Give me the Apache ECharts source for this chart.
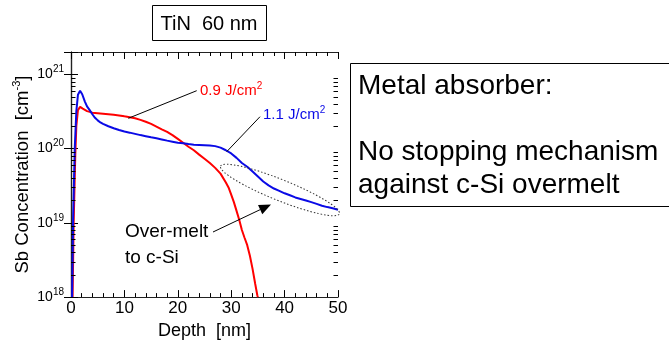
<!DOCTYPE html>
<html>
<head>
<meta charset="utf-8">
<script src="https://cdn.jsdelivr.net/npm/echarts@6/dist/echarts.min.js"></script>
<style>
html,body{margin:0;padding:0;background:#fff;}
#chart{width:669px;height:345px;}
</style>
</head>
<body>
<div id="chart"></div>
<script>
// ---- data (depth in nm, Sb concentration in cm^-3) ----
const redDepth = [0.3,0.5,0.8,1.0,1.3,1.7,2.2,3,4,5,6,7,8,9,10,11,12,13,14,15,16,17,18,19,20,21,22,23,24,25,26,27,28,29,29.5,30,30.5,31,31.5,32,32.5,33,33.5,34,34.5,34.9,35];
const redConc  = [1e18,1e19,8e19,2e20,3.3e20,3.65e20,3.45e20,3.2e20,3.05e20,3.0e20,2.95e20,2.9e20,2.85e20,2.8e20,2.72e20,2.65e20,2.56e20,2.44e20,2.3e20,2.15e20,1.98e20,1.82e20,1.68e20,1.52e20,1.35e20,1.2e20,1.06e20,9.5e19,8.3e19,7.3e19,6.4e19,5.5e19,4.6e19,3.5e19,3.0e19,2.4e19,1.9e19,1.45e19,1.1e19,8e18,6.3e18,5e18,3.6e18,2.4e18,1.5e18,1.05e18,1e18];

const blueDepth = [0.2,0.4,0.7,1.0,1.3,1.7,2.1,2.6,3,3.5,4,4.5,5,5.5,6,7,8,9,10,11,12,13,14,15,16,17,18,19,20,21,22,23,24,25,26,27,28,29,30,31,32,33,34,35,36,37,38,39,40,41,42,43,44,45,46,47,48,49,50];
const blueConc  = [1e18,1.2e19,1e20,3.2e20,5.3e20,6e20,5.4e20,4.3e20,3.7e20,3.3e20,2.9e20,2.6e20,2.4e20,2.25e20,2.15e20,2.0e20,1.88e20,1.78e20,1.7e20,1.64e20,1.58e20,1.52e20,1.47e20,1.42e20,1.38e20,1.33e20,1.28e20,1.24e20,1.2e20,1.18e20,1.15e20,1.13e20,1.12e20,1.11e20,1.1e20,1.08e20,1.03e20,9.5e19,8.6e19,7.5e19,6.4e19,5.7e19,4.9e19,4.2e19,3.6e19,3.2e19,2.9e19,2.7e19,2.5e19,2.35e19,2.2e19,2.1e19,2.0e19,1.9e19,1.8e19,1.7e19,1.63e19,1.57e19,1.5e19];

const xTicks = [0,10,20,30,40,50];
const yDecades = [18,19,20,21];
const yMin = 1e18, yMax = 2e21;

// ---- build ----
const FONT = 'Liberation Sans, Arial, Helvetica, sans-serif';
const pairs = (xs, ys) => xs.map((x,i)=>[x, ys[i]]);

const minorY = [];
yDecades.forEach(e => { for (let k=2;k<=9;k++){ const v=k*Math.pow(10,e); if (v<yMax) minorY.push([xTicks[0], v]); } });

const chart = echarts.init(document.getElementById('chart'), null, {renderer:'canvas'});

const axisLineStyle = {show:true, lineStyle:{color:'#222', width:1.2}};
const tickStyle = {color:'#000', width:1};
const yLabelFmt = v => {
  const e = Math.round(Math.log10(v));
  if (Math.abs(v - Math.pow(10,e)) / v > 1e-6) return '';
  return '{b|10}{s|' + e + '}';
};

const option = {
  animation:false,
  backgroundColor:'#fff',
  grid:{left:71, right:331, top:52, bottom:43, containLabel:false},
  xAxis:[
    {type:'value', min:xTicks[0], max:xTicks[xTicks.length-1], interval:10, position:'bottom',
     axisLine:axisLineStyle, splitLine:{show:false},
     axisTick:{show:true, inside:true, length:7, lineStyle:tickStyle},
     minorTick:{show:true, splitNumber:5, length:4, lineStyle:tickStyle},
     axisLabel:{color:'#000', fontSize:17, fontFamily:FONT, margin:3},
     name:'Depth  [nm]', nameLocation:'middle', nameGap:17,
     nameTextStyle:{color:'#000', fontSize:18, fontFamily:FONT}},
    {type:'value', min:xTicks[0], max:xTicks[xTicks.length-1], interval:10, position:'top',
     axisLine:axisLineStyle, splitLine:{show:false},
     axisTick:{show:true, inside:true, length:7, lineStyle:tickStyle},
     minorTick:{show:true, splitNumber:5, length:4, lineStyle:tickStyle},
     axisLabel:{show:false}}
  ],
  yAxis:[
    {type:'log', logBase:10, min:yMin, max:yMax, position:'left',
     axisLine:axisLineStyle, splitLine:{show:false},
     axisTick:{show:true, inside:true, length:7, lineStyle:tickStyle},
     axisLabel:{formatter:yLabelFmt, margin:7, color:'#000',
       rich:{b:{fontSize:14, fontFamily:FONT, color:'#000'}, s:{fontSize:10, fontFamily:FONT, color:'#000', verticalAlign:'top', padding:[0,0,10,0]}}},
     name:'{n|Sb Concentration  [cm}{s|-3}{n|]}', nameLocation:'middle', nameGap:37, nameRotate:90,
     nameTextStyle:{rich:{n:{fontSize:18.5, fontFamily:FONT, color:'#000'}, s:{fontSize:11, fontFamily:FONT, color:'#000', padding:[0,0,12,0]}}}},
    {type:'log', logBase:10, min:yMin, max:yMax, position:'right',
     axisLine:axisLineStyle, splitLine:{show:false},
     axisTick:{show:true, inside:true, length:7, lineStyle:tickStyle},
     axisLabel:{show:false}}
  ],
  series:[
    {type:'custom', xAxisIndex:0, yAxisIndex:0, data:minorY, silent:true, z:5,
     renderItem:(params, api)=>{
       const v = api.value(1);
       const pL = api.coord([xTicks[0], v]);
       const pR = api.coord([xTicks[xTicks.length-1], v]);
       const y = Math.round(pL[1]) + 0.5;
       return {type:'group', children:[
         {type:'line', shape:{x1:pL[0], y1:y, x2:pL[0]+4.5, y2:y}, style:{stroke:'#000', lineWidth:1}},
         {type:'line', shape:{x1:pR[0]-4.5, y1:y, x2:pR[0], y2:y}, style:{stroke:'#000', lineWidth:1}}
       ]};
     }},
    {type:'line', name:'0.9 J/cm2', xAxisIndex:0, yAxisIndex:0, data:pairs(redDepth, redConc),
     showSymbol:false, symbol:'none', lineStyle:{color:'#ff0000', width:2}, z:3},
    {type:'line', name:'1.1 J/cm2', xAxisIndex:0, yAxisIndex:0, data:pairs(blueDepth, blueConc),
     showSymbol:false, symbol:'none', lineStyle:{color:'#0a0ae6', width:2}, z:4}
  ]
};
chart.setOption(option);

// ---- annotations ----
const tip = [271, 204.5], tail = [213, 232];
const dx = tip[0]-tail[0], dy = tip[1]-tail[1], L = Math.hypot(dx,dy);
const ux = dx/L, uy = dy/L, px = -uy, py = ux;
const bc = [tip[0]-12*ux, tip[1]-12*uy];

chart.setOption({graphic:[
  {type:'rect', shape:{x:152.5, y:5.5, width:114, height:35}, style:{fill:'#fff', stroke:'#000', lineWidth:1}},
  {type:'text', x:209, y:24, style:{text:'TiN  60 nm', font:'20px '+FONT, fill:'#000', align:'center', verticalAlign:'middle'}},

  {type:'rect', shape:{x:350.5, y:63.5, width:340, height:143}, style:{fill:'#fff', stroke:'#000', lineWidth:1}},
  {type:'text', x:358, y:86, style:{text:'Metal absorber:', font:'28px '+FONT, fill:'#000', align:'left', verticalAlign:'middle'}},
  {type:'text', x:358, y:152, style:{text:'No stopping mechanism', font:'28px '+FONT, fill:'#000', align:'left', verticalAlign:'middle'}},
  {type:'text', x:358, y:185, style:{text:'against c-Si overmelt', font:'28px '+FONT, fill:'#000', align:'left', verticalAlign:'middle'}},

  {type:'line', shape:{x1:128.3, y1:118.3, x2:196.7, y2:90.7}, style:{stroke:'#000', lineWidth:1}, z:10},
  {type:'text', x:200, y:91, z:10, style:{text:'{a|0.9 J/cm}{s|2}', fill:'#ff0000', align:'left', verticalAlign:'middle',
     rich:{a:{fontSize:15, fontFamily:FONT, fill:'#ff0000'}, s:{fontSize:10, fontFamily:FONT, fill:'#ff0000', padding:[0,0,10,0]}}}},
  {type:'line', shape:{x1:226.7, y1:151.7, x2:260, y2:116.7}, style:{stroke:'#000', lineWidth:1}, z:10},
  {type:'text', x:263, y:115, z:10, style:{text:'{a|1.1 J/cm}{s|2}', fill:'#0a0ae6', align:'left', verticalAlign:'middle',
     rich:{a:{fontSize:15, fontFamily:FONT, fill:'#0a0ae6'}, s:{fontSize:10, fontFamily:FONT, fill:'#0a0ae6', padding:[0,0,10,0]}}}},

  {type:'ellipse', x:280, y:190, rotation:-0.382, shape:{cx:0, cy:0, rx:64, ry:10.5}, z:10,
   style:{fill:'none', stroke:'#333', lineWidth:1, lineDash:[1.5,2]}},

  {type:'text', x:125, y:232, z:10, style:{text:'Over-melt', font:'19px '+FONT, fill:'#000', align:'left', verticalAlign:'middle'}},
  {type:'text', x:125, y:258, z:10, style:{text:'to c-Si', font:'19px '+FONT, fill:'#000', align:'left', verticalAlign:'middle'}},
  {type:'line', shape:{x1:tail[0], y1:tail[1], x2:bc[0], y2:bc[1]}, style:{stroke:'#000', lineWidth:1}, z:10},
  {type:'polygon', shape:{points:[tip, [bc[0]+5*px, bc[1]+5*py], [bc[0]-5*px, bc[1]-5*py]]}, style:{fill:'#000'}, z:10}
]});
</script>
</body>
</html>
